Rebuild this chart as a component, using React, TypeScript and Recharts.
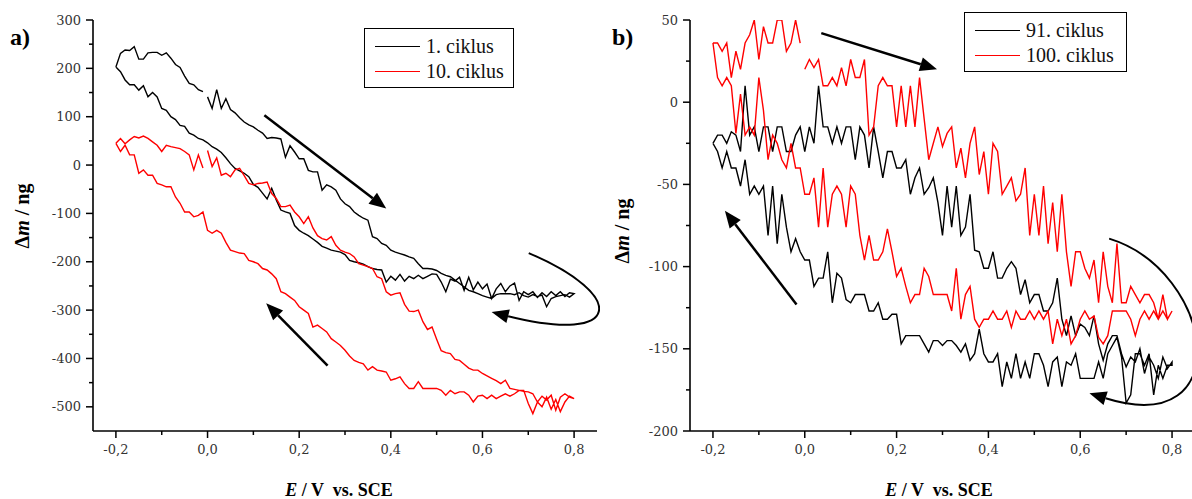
import { Line, LineChart, ReferenceLine, XAxis, YAxis } from 'recharts';

// potential grid shared by every branch (V vs. SCE)
const E_GRID = [
  -0.2, -0.19, -0.18, -0.17, -0.16, -0.15, -0.14, -0.13, -0.12, -0.11,
  -0.1, -0.09, -0.08, -0.07, -0.06, -0.05, -0.04, -0.03, -0.02, -0.01,
  0, 0.01, 0.02, 0.03, 0.04, 0.05, 0.06, 0.07, 0.08, 0.09,
  0.1, 0.11, 0.12, 0.13, 0.14, 0.15, 0.16, 0.17, 0.18, 0.19,
  0.2, 0.21, 0.22, 0.23, 0.24, 0.25, 0.26, 0.27, 0.28, 0.29,
  0.3, 0.31, 0.32, 0.33, 0.34, 0.35, 0.36, 0.37, 0.38, 0.39,
  0.4, 0.41, 0.42, 0.43, 0.44, 0.45, 0.46, 0.47, 0.48, 0.49,
  0.5, 0.51, 0.52, 0.53, 0.54, 0.55, 0.56, 0.57, 0.58, 0.59,
  0.6, 0.61, 0.62, 0.63, 0.64, 0.65, 0.66, 0.67, 0.68, 0.69,
  0.7, 0.71, 0.72, 0.73, 0.74, 0.75, 0.76, 0.77, 0.78, 0.79, 0.8,
];

// a) cycle 1 — anodic (fwd) and cathodic (rev) branch, in ng, listed along E_GRID
const A_C1_FWD = [
  203, 231, 238, 237, 245, 219, 219, 232, 233, 233,
  227, 232, 221, 208, 202, 184, 169, 166, 156, 152,
  141, 117, 156, 117, 137, 115, 108, 98, 89, 83,
  79, 72, 66, 55, 57, 56, 54, 16, 40, 27,
  13, 13, -11, -14, -14, -52, -41, -45, -52, -70,
  -80, -86, -97, -104, -110, -114, -148, -152, -162, -166,
  -176, -180, -183, -186, -190, -193, -204, -214, -214, -215,
  -218, -224, -228, -231, -238, -245, -252, -259, -262, -266,
  -270, -273, -276, -268, -266, -266, -266, -268, -264, -270,
  -273, -268, -272, -269, -293, -276, -272, -270, -268, -273, -266,
];
const A_C1_REV = [
  203, 193, 176, 166, 166, 155, 164, 141, 150, 141,
  117, 113, 100, 94, 82, 80, 66, 62, 55, 52,
  46, 38, 33, 26, 15, 3, -7, -12, -17, -24,
  -40, -46, -58, -70, -48, -72, -93, -97, -100, -125,
  -135, -141, -146, -153, -160, -168, -172, -176, -178, -180,
  -185, -197, -200, -202, -205, -210, -214, -216, -217, -242,
  -230, -238, -226, -240, -230, -235, -228, -235, -230, -225,
  -226, -242, -262, -236, -240, -232, -259, -232, -258, -242,
  -256, -246, -276, -256, -245, -262, -250, -244, -280, -262,
  -268, -262, -274, -264, -272, -262, -270, -262, -272, -264, -266,
];

// a) cycle 10
const A_C10_FWD = [
  45, 55, 44, 52, 59, 56, 60, 55, 48, 41,
  28, 41, 38, 36, 34, 28, 21, -10, 21, -6,
  30, -3, 15, -21, -17, -24, -10, -7, -22, -38,
  -41, -38, -37, -35, -59, -69, -86, -86, -83, -97,
  -107, -121, -107, -130, -146, -152, -155, -148, -166, -176,
  -180, -183, -190, -204, -207, -210, -214, -231, -235, -262,
  -269, -266, -264, -288, -302, -303, -300, -324, -340, -335,
  -360, -384, -388, -390, -402, -404, -412, -420, -424, -424,
  -431, -436, -441, -446, -452, -445, -462, -464, -466, -468,
  -469, -473, -490, -478, -486, -476, -507, -480, -473, -480, -483,
];
const A_C10_REV = [
  45, 28, 41, 21, 21, -17, -10, -21, -21, -38,
  -41, -45, -45, -66, -79, -97, -97, -107, -104, -97,
  -135, -141, -135, -141, -160, -176, -179, -182, -183, -197,
  -200, -204, -214, -217, -225, -235, -262, -266, -273, -280,
  -293, -300, -307, -335, -331, -338, -345, -359, -366, -373,
  -383, -395, -404, -408, -411, -424, -417, -424, -426, -428,
  -445, -442, -438, -452, -462, -462, -448, -462, -462, -462,
  -462, -466, -476, -466, -473, -469, -469, -476, -490, -478,
  -476, -483, -476, -483, -478, -473, -478, -473, -466, -466,
  -493, -514, -490, -500, -480, -505, -485, -510, -490, -478, -483,
];

// b) cycle 91
const B_C91_FWD = [
  -25, -20, -20, -25, -18, -20, -30, 10, -20, -15,
  -30, -15, -15, -30, -15, -15, -30, -30, -20, -15,
  -30, -15, -25, 10, -15, -15, -25, -15, -25, -15,
  -15, -35, -15, -20, -40, -15, -30, -46, -30, -30,
  -40, -40, -35, -56, -46, -40, -56, -52, -46, -61,
  -81, -51, -76, -51, -81, -76, -56, -90, -91, -101,
  -101, -91, -107, -107, -101, -97, -101, -117, -108, -122,
  -117, -117, -127, -127, -122, -107, -132, -142, -130, -142,
  -135, -137, -142, -130, -147, -157, -147, -142, -142, -153,
  -161, -155, -158, -150, -165, -155, -160, -168, -155, -162, -158,
];
const B_C91_REV = [
  -25, -30, -40, -30, -40, -40, -51, -35, -56, -51,
  -56, -51, -81, -51, -86, -56, -76, -91, -83, -91,
  -96, -96, -112, -107, -107, -91, -122, -104, -107, -120,
  -122, -117, -117, -117, -127, -127, -122, -132, -132, -129,
  -129, -147, -142, -142, -142, -142, -147, -152, -145, -145,
  -148, -145, -145, -148, -152, -147, -157, -153, -138, -153,
  -158, -158, -153, -173, -158, -168, -153, -168, -158, -168,
  -153, -153, -160, -173, -158, -155, -173, -158, -160, -153,
  -168, -168, -168, -168, -158, -168, -153, -148, -143, -155,
  -183, -178, -153, -153, -160, -153, -178, -160, -168, -160, -160,
];

// b) cycle 100
const B_C100_FWD = [
  36, 36, 31, 36, 15, 31, 20, 36, 41, 50,
  26, 46, 36, 36, 50, 50, 31, 36, 50, 36,
  20, 26, 21, 26, 10, 10, 15, 10, 21, 10,
  26, 15, 15, 26, -20, -15, 10, 15, 10, 10,
  -15, 10, -15, 10, -15, 15, -10, -35, -25, -15,
  -27, -19, -15, -40, -28, -46, -25, -15, -44, -30,
  -56, -25, -30, -56, -51, -46, -60, -56, -40, -81,
  -56, -81, -51, -86, -61, -91, -56, -91, -112, -91,
  -91, -101, -107, -96, -122, -91, -112, -122, -86, -122,
  -122, -112, -117, -122, -117, -117, -122, -132, -117, -132, -127,
];
const B_C100_REV = [
  36, 15, 10, 15, 10, -19, 5, -20, -15, -20,
  15, -5, -35, -20, -25, -35, -40, -25, -40, -40,
  -56, -56, -46, -76, -40, -76, -56, -51, -56, -76,
  -51, -56, -81, -96, -81, -96, -96, -91, -77, -91,
  -106, -101, -112, -122, -117, -117, -101, -106, -117, -117,
  -117, -117, -127, -101, -132, -117, -112, -132, -137, -132,
  -132, -127, -132, -132, -127, -137, -127, -132, -132, -127,
  -132, -127, -132, -127, -147, -132, -142, -132, -147, -142,
  -132, -127, -132, -130, -143, -147, -142, -127, -127, -127,
  -127, -132, -142, -132, -127, -132, -127, -132, -127, -132, -127,
];

const X_MAJOR = [-0.2, 0, 0.2, 0.4, 0.6, 0.8];
const X_TICKS = [-0.2, -0.1, 0, 0.1, 0.2, 0.3, 0.4, 0.5, 0.6, 0.7, 0.8];
const A_Y_MAJOR = [-500, -400, -300, -200, -100, 0, 100, 200, 300];
const A_Y_TICKS = [-500, -450, -400, -350, -300, -250, -200, -150, -100, -50, 0, 50, 100, 150, 200, 250, 300];
const B_Y_MAJOR = [-200, -150, -100, -50, 0, 50];
const B_Y_TICKS = [-200, -175, -150, -125, -100, -75, -50, -25, 0, 25, 50];

const TICK_SIZE = 7;
const SERIF = "'Liberation Serif', 'DejaVu Serif', serif";
const TICK_FONT = "'DejaVu Serif', serif";

type Pt = { e: number; m: number | null };

// forward scan, then the reverse scan back to -0.2 V; gapAt breaks the line before that index
function buildLoop(fwd: number[], rev: number[], gapAt?: number): Pt[] {
  const pts: Pt[] = [];
  fwd.forEach((m, i) => {
    if (i === gapAt) pts.push({ e: E_GRID[i] - 0.005, m: null });
    pts.push({ e: E_GRID[i], m });
  });
  for (let i = rev.length - 1; i >= 0; i--) pts.push({ e: E_GRID[i], m: rev[i] });
  return pts;
}

const isMajor = (v: number, majors: number[]) => majors.some((t) => Math.abs(t - v) < 1e-6);

function makeYTick(majors: number[], margin: number) {
  return (props: any) => {
    const { x, y, payload } = props;
    const axisX = x + TICK_SIZE + margin;
    const major = isMajor(payload.value, majors);
    return (
      <g>
        <line x1={axisX - (major ? TICK_SIZE : 4)} x2={axisX} y1={y} y2={y} stroke="#000" strokeWidth={1.5} />
        {major && (
          <text x={x} y={y} dy="0.35em" textAnchor="end" fontFamily={TICK_FONT} fontSize={13} fill="#333">
            {String(payload.value)}
          </text>
        )}
      </g>
    );
  };
}

function makeXTick(margin: number) {
  return (props: any) => {
    const { x, y, payload } = props;
    const axisY = y - TICK_SIZE - margin;
    const major = isMajor(payload.value, X_MAJOR);
    return (
      <g>
        <line x1={x} x2={x} y1={axisY} y2={axisY + (major ? TICK_SIZE : 4)} stroke="#000" strokeWidth={1.5} />
        {major && (
          <text x={x} y={y} dy="0.71em" textAnchor="middle" fontFamily={TICK_FONT} fontSize={13} fill="#333">
            {payload.value.toFixed(1).replace('.', ',')}
          </text>
        )}
      </g>
    );
  };
}

type Bend = { c1: [number, number]; c2: [number, number] };

function arrowShape(bend?: Bend, width = 2.5) {
  return (props: any) => {
    const { x1, y1, x2, y2 } = props;
    if (![x1, y1, x2, y2].every((v) => Number.isFinite(v))) return <g />;
    const fromX = bend ? x2 + bend.c2[0] : x1;
    const fromY = bend ? y2 + bend.c2[1] : y1;
    const len = Math.hypot(x2 - fromX, y2 - fromY) || 1;
    const ux = (x2 - fromX) / len;
    const uy = (y2 - fromY) / len;
    const bx = x2 - ux * 17;
    const by = y2 - uy * 17;
    const head = `${x2},${y2} ${bx - uy * 7},${by + ux * 7} ${bx + uy * 7},${by - ux * 7}`;
    const d = bend
      ? `M${x1},${y1} C${x1 + bend.c1[0]},${y1 + bend.c1[1]} ${fromX},${fromY} ${bx},${by}`
      : `M${x1},${y1} L${bx},${by}`;
    return (
      <g>
        <path d={d} fill="none" stroke="#000" strokeWidth={width} />
        <polygon points={head} fill="#000" />
      </g>
    );
  };
}

type Series = { name: string; color: string; data: Pt[] };
type Arrow = { from: [number, number]; to: [number, number]; bend?: Bend };

const A_SERIES: Series[] = [
  { name: '1. ciklus', color: '#000000', data: buildLoop(A_C1_FWD, A_C1_REV, 20) },
  { name: '10. ciklus', color: '#ff0000', data: buildLoop(A_C10_FWD, A_C10_REV, 20) },
];
const B_SERIES: Series[] = [
  { name: '91. ciklus', color: '#000000', data: buildLoop(B_C91_FWD, B_C91_REV) },
  { name: '100. ciklus', color: '#ff0000', data: buildLoop(B_C100_FWD, B_C100_REV, 20) },
];

const A_ARROWS: Arrow[] = [
  { from: [0.124, 103], to: [0.39, -90] },
  { from: [0.262, -415], to: [0.128, -286] },
  { from: [0.701, -182], to: [0.62, -304], bend: { c1: [99, 42], c2: [132, 33] } },
];
const B_ARROWS: Arrow[] = [
  { from: [0.036, 42], to: [0.288, 20] },
  { from: [-0.018, -123], to: [-0.174, -66] },
  { from: [0.663, -83], to: [0.62, -177], bend: { c1: [105, 32], c2: [150, 47] } },
];

function Panel(props: {
  width: number;
  yWidth: number;
  right: number;
  yDomain: [number, number];
  yTicks: number[];
  yMajor: number[];
  series: Series[];
  arrows: Arrow[];
}) {
  const { width, yWidth, right, yDomain, yTicks, yMajor, series, arrows } = props;
  return (
    <LineChart width={width} height={499} margin={{ top: 20, right, bottom: 38, left: 0 }}>
      <XAxis
        type="number"
        dataKey="e"
        domain={[-0.25, 0.85]}
        ticks={X_TICKS}
        interval={0}
        height={30}
        tickSize={TICK_SIZE}
        tickMargin={7}
        tickLine={false}
        axisLine={{ stroke: '#000', strokeWidth: 1.6 }}
        tick={makeXTick(7)}
        allowDataOverflow
      />
      <YAxis
        type="number"
        dataKey="m"
        domain={yDomain}
        ticks={yTicks}
        interval={0}
        width={yWidth}
        tickSize={TICK_SIZE}
        tickMargin={5}
        tickLine={false}
        axisLine={{ stroke: '#000', strokeWidth: 1.6 }}
        tick={makeYTick(yMajor, 5)}
        allowDataOverflow
      />
      {series.map((s) => (
        <Line
          key={s.name}
          data={s.data}
          dataKey="m"
          name={s.name}
          type="linear"
          stroke={s.color}
          strokeWidth={1.4}
          dot={false}
          activeDot={false}
          connectNulls={false}
          isAnimationActive={false}
        />
      ))}
      {arrows.map((a, i) => (
        <ReferenceLine
          key={i}
          segment={[
            { x: a.from[0], y: a.from[1] },
            { x: a.to[0], y: a.to[1] },
          ]}
          ifOverflow="visible"
          shape={arrowShape(a.bend, a.bend ? 2 : 2.5)}
        />
      ))}
    </LineChart>
  );
}

function LegendBox(props: { left: number; top: number; width: number; series: Series[] }) {
  const { left, top, width, series } = props;
  return (
    <div
      style={{
        position: 'absolute',
        left,
        top,
        width,
        height: 60,
        boxSizing: 'border-box',
        border: '1px solid #000',
        background: '#fff',
        fontFamily: SERIF,
        fontSize: 20,
        color: '#111',
      }}
    >
      {series.map((s, i) => (
        <div key={s.name} style={{ position: 'absolute', left: 10, top: 5 + i * 25, height: 24, display: 'flex', alignItems: 'center' }}>
          <span style={{ display: 'inline-block', width: 45, height: 0, borderTop: `1.5px solid ${s.color}`, marginRight: 6 }} />
          <span style={{ lineHeight: '24px' }}>{s.name}</span>
        </div>
      ))}
    </div>
  );
}

function AxisTitles(props: { panelLeft: number; letter: string; yCenter: number; yBase: number; xCenter: number }) {
  const { letter, yCenter, yBase, xCenter, panelLeft } = props;
  return (
    <>
      <text x={panelLeft + 10} y={45} fontFamily={SERIF} fontWeight="bold" fontSize={24} fill="#000">
        {letter}
      </text>
      <text
        transform={`translate(${yBase},${yCenter}) rotate(-90)`}
        textAnchor="middle"
        fontFamily={SERIF}
        fontWeight="bold"
        fontSize={20}
        fill="#000"
      >
        Δ<tspan fontStyle="italic">m</tspan> / ng
      </text>
      <text x={xCenter} y={496} textAnchor="middle" fontFamily={SERIF} fontWeight="bold" fontSize={18} fill="#000" style={{ whiteSpace: 'pre' }}>
        <tspan fontStyle="italic">E</tspan>
        {' / V  vs. SCE'}
      </text>
    </>
  );
}

export default function App() {
  return (
    <div style={{ position: 'absolute', left: 0, top: 0, width: 1192, height: 499, overflow: 'hidden', background: '#fff' }}>
      <div style={{ position: 'absolute', left: 0, top: 0 }}>
        <Panel
          width={600}
          yWidth={93}
          right={3}
          yDomain={[-550, 300]}
          yTicks={A_Y_TICKS}
          yMajor={A_Y_MAJOR}
          series={A_SERIES}
          arrows={A_ARROWS}
        />
      </div>
      <div style={{ position: 'absolute', left: 600, top: 0 }}>
        <Panel
          width={595}
          yWidth={90}
          right={0}
          yDomain={[-200, 50]}
          yTicks={B_Y_TICKS}
          yMajor={B_Y_MAJOR}
          series={B_SERIES}
          arrows={B_ARROWS}
        />
      </div>
      <LegendBox left={364} top={28} width={150} series={A_SERIES} />
      <LegendBox left={964} top={12} width={163} series={B_SERIES} />
      <svg width={1192} height={499} style={{ position: 'absolute', left: 0, top: 0, pointerEvents: 'none' }}>
        <AxisTitles panelLeft={0} letter="a)" yCenter={216} yBase={29} xCenter={339} />
        <AxisTitles panelLeft={602} letter="b)" yCenter={231} yBase={629} xCenter={939} />
      </svg>
    </div>
  );
}
